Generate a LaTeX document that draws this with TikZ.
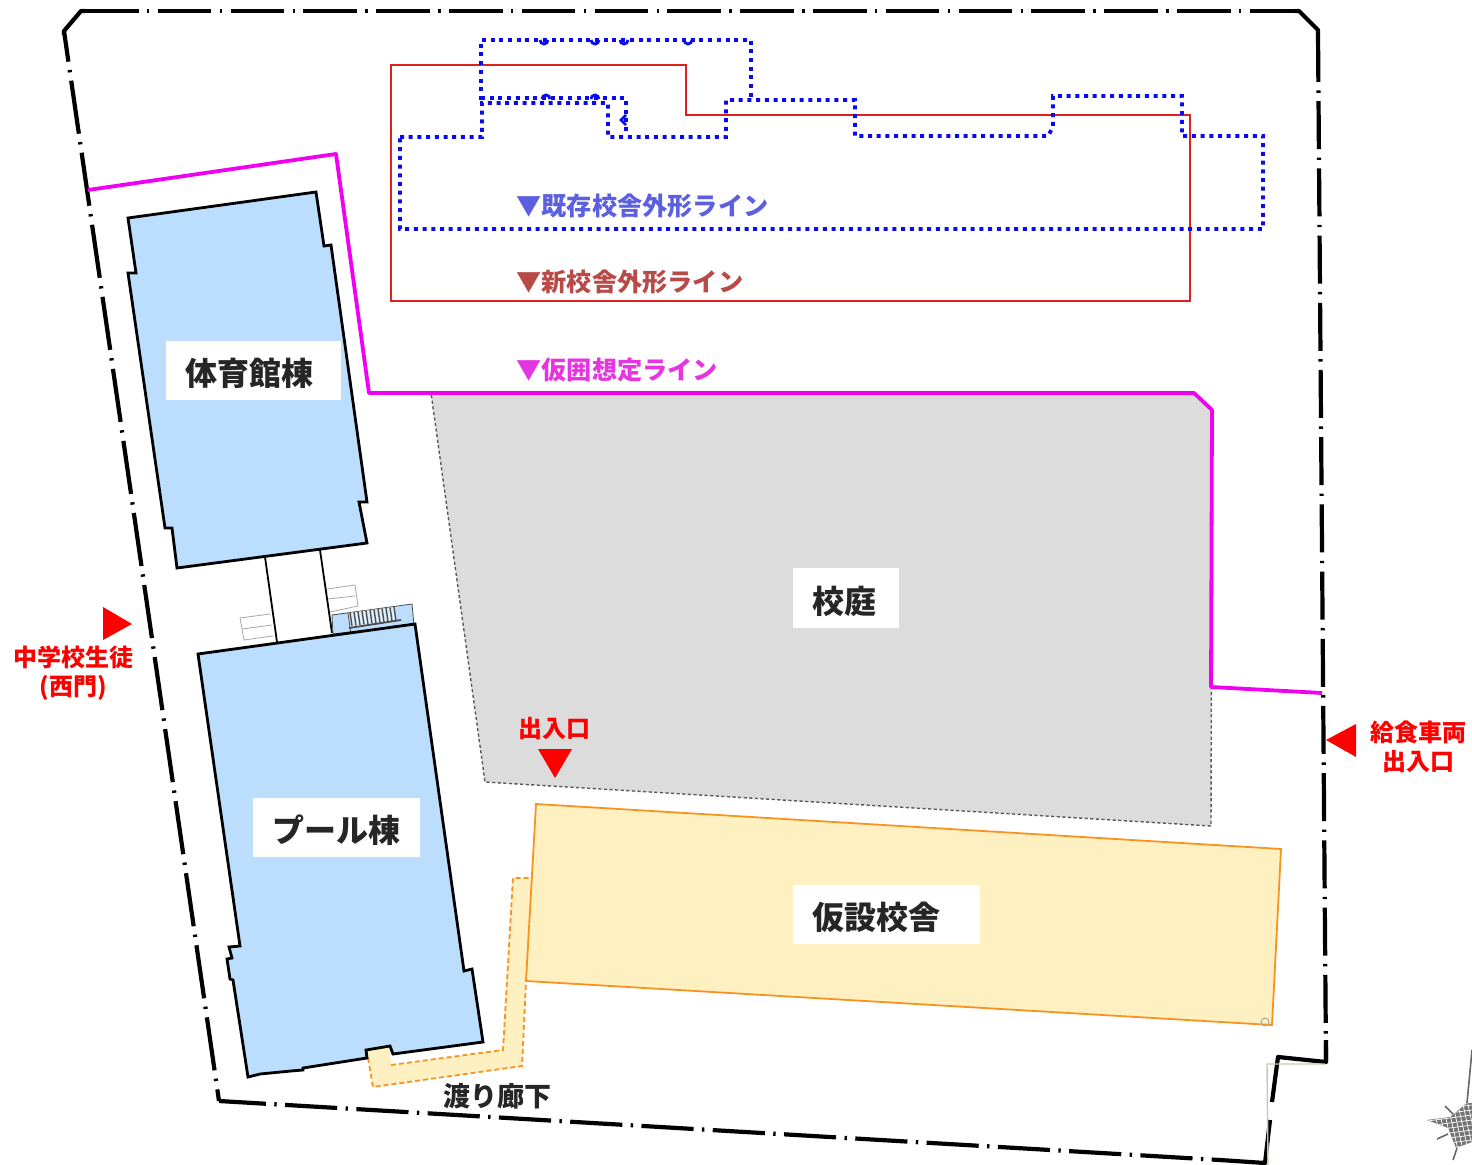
\documentclass[tikz,border=0pt]{standalone}
\usepackage{fontspec}
\setmainfont{Noto Sans CJK JP}
\usetikzlibrary{positioning}

\definecolor{bldgblue}{HTML}{BBDEFE}
\definecolor{tempyellow}{HTML}{FFF0C2}
\definecolor{tempedge}{HTML}{F79421}
\definecolor{yardgray}{HTML}{DCDCDC}
\definecolor{fenceline}{HTML}{F000F0}
\definecolor{oldline}{HTML}{0A0AF0}
\definecolor{newline}{HTML}{E0201C}
\definecolor{surveyline}{HTML}{C8C8B0}

\begin{document}
\begin{tikzpicture}[x=0.5pt, y=-0.5pt,
    site/.style={line width=2.1pt, dash pattern=on 26.8pt off 4.2pt on 1.2pt off 4.2pt},
    bldg/.style={draw, fill=bldgblue, line width=1.4pt, line join=miter},
    fence/.style={draw=fenceline, line width=1.9pt, line join=round},
    oldout/.style={draw=oldline, line width=1.9pt, dash pattern=on 2pt off 2.35pt},
    newout/.style={draw=newline, line width=0.7pt},
    stairs/.style={draw=gray!70, line width=0.4pt},
    namebox/.style={fill=white, inner xsep=9.7pt, inner ysep=0pt, minimum height=29.5pt, align=left, text height=15pt, text depth=0pt, font=\fontsize{16}{16}\selectfont\bfseries, text=black!85},
    legend/.style={anchor=west, inner sep=0pt, font=\fontsize{12.6}{12.6}\selectfont\bfseries},
    gate/.style={inner sep=0pt, align=center, text=red, font=\fontsize{12}{14.5}\selectfont\bfseries},
    marker/.style={fill=red}]
    \useasboundingbox (0,0) rectangle (1472,1165);

    % yard
    \path[fill=yardgray, draw=black!65, line width=0.7pt, dash pattern=on 1.6pt off 1.2pt] (431,393) -- (1194,393) -- (1212,410) -- (1211,826) -- (485,782) -- cycle;

    % temporary school and corridor
    \path[fill=tempyellow] (513,878) -- (532,878) -- (526,982) -- (522,1066) -- (373,1087) -- (367,1050) -- (390,1046) -- (391,1065) -- (503,1050) -- cycle;
    \draw[tempedge, line width=0.9pt, dash pattern=on 2.5pt off 1.5pt] (368,1058) -- (373,1087) -- (522,1066) -- (526,982);
    \draw[tempedge, line width=0.9pt, dash pattern=on 2.5pt off 1.5pt] (391,1065) -- (503,1050) -- (513,878) -- (532,878);
    \path[fill=tempyellow, draw=tempedge, line width=0.9pt] (536,804) -- (1281,849) -- (1272,1025) -- (526,981) -- cycle;
    \draw[gray!70, line width=0.5pt] (1265,1022) circle (4);

    % buildings
    \draw[line width=0.9pt] (265,557) -- (277,642);
    \draw[line width=0.9pt] (320,550) -- (332,633);
    \draw[stairs] (327,589) -- (355,585) -- (358,606) -- (330,612);
    \draw[stairs] (328,599) -- (355,596);
    \draw[stairs] (270,614) -- (240,618) -- (244,640) -- (273,636);
    \draw[stairs] (242,629) -- (272,625);
    \path[draw=black!70, fill=bldgblue, line width=0.4pt] (332,615) -- (412,604) -- (414,625) -- (333,634) -- cycle;
    \path[fill=bldgblue!50] (348,613) -- (395,607) -- (397,622) -- (350,627) -- cycle;
    \foreach \i in {0,...,11} {
        \draw[black!70, line width=0.7pt] ({350+\i*4},{612.5-\i*0.5}) -- ({352+\i*4},{626-\i*0.5});
    }
    \draw[black!70, line width=0.9pt] (349,628) -- (401,620);
    \draw[black!70, line width=0.4pt] (348,613) -- (351,635);

    \path[bldg] (128,218) -- (316,192) -- (324,246) -- (331,245) -- (367,502) -- (359,502) -- (367,543) -- (177,568) -- (172,528) -- (165,528) -- (128,273) -- (136,273) -- cycle;
    \path[bldg] (198,654) -- (415,624) -- (464,971) -- (472,969) -- (483,1042) -- (393,1054) -- (390,1046) -- (366,1050) -- (367,1058) -- (303,1068) -- (303,1070) -- (291,1071) -- (260,1074) -- (248,1077) -- (233,980) -- (230,979) -- (227,959) -- (232,958) -- (229,947) -- (240,946) -- cycle;

    % new and existing school outlines
    \draw[newout] (391,65) -- (686,65) -- (686,115) -- (1190,115) -- (1190,301) -- (391,301) -- cycle;
    \draw[oldout] (400,137) -- (482,137) -- (482,103) -- (608,103) -- (608,137) -- (726,137) -- (726,100) -- (855,100) -- (855,136) -- (1048,136) -- (1053,127) -- (1053,96) -- (1182,96) -- (1182,136) -- (1263,136) -- (1263,229) -- (400,229) -- cycle;
    \draw[oldout] (481,100) -- (481,40) -- (751,40) -- (751,100);
    \draw[oldout] (481,98) -- (626,98) -- (626,135);
    \foreach \bx in {544,595,624,688} {
        \draw[oldline, line width=1.4pt] ({\bx-4},40) arc (180:0:4);
    }
    \foreach \bx in {546,595} {
        \draw[oldline, line width=1.4pt] ({\bx-4},99) arc (180:360:4);
    }
    \draw[oldline, line width=1.4pt] (626,115) -- (621,120) -- (626,125);

    % site boundary
    \draw[line width=2.1pt, line join=round] (64,35) -- (64,31) -- (81,11) -- (85,11);
    \draw[line width=2.1pt, line join=round] (1295,11) -- (1299,11) -- (1318,30) -- (1318,34);
    \draw[site, dash phase=11.3pt] (64,31) -- (219,1101);
    \draw[site] (85,11) -- (1295,11);
    \draw[site, dash pattern=on 24pt off 4.2pt on 1.2pt off 4.2pt] (1318,34) -- (1326,1062);
    \draw[line width=2.1pt, line join=round] (1326,1040) -- (1326,1062) -- (1278,1057) -- (1272,1102);
    \draw[line width=2.1pt, line join=round] (1270,1120) -- (1265,1163) -- (1220,1160);
    \draw[site, dash pattern=on 26.1pt off 4.2pt on 1.2pt off 4.2pt, dash phase=2.6pt] (219,1101) -- (1220,1160);
    \draw[surveyline, line width=0.7pt] (1325,1064) -- (1267,1064) -- (1268,1165);

    % temporary fence
    \draw[fence] (88,190) -- (336,154) -- (369,393) -- (1194,393) -- (1212,410) -- (1211,687) -- (1322,693);

    % compass
    \begin{scope}
        \clip (1427,1120) -- (1450,1117) -- (1467,1103) -- (1472,1103) -- (1472,1142) -- (1456,1148) -- (1448,1128) -- cycle;
        \fill[black!55] (1420,1095) rectangle (1472,1165);
        \foreach \i in {0,...,9} {
            \draw[white, line width=0.35pt] ({1432+\i*5},1100) -- ({1444+\i*5},1155);
            \draw[white, line width=0.35pt] (1420,{1112+\i*5}) -- (1472,{1105+\i*5});
        }
    \end{scope}
    \draw[black!60, line width=0.8pt] (1467,1103) -- (1472,1050);
    \draw[black!60, line width=0.8pt] (1445,1106) -- (1453,1114);
    \draw[black!60, line width=0.8pt] (1437,1139) -- (1448,1134);
    \draw[black!60, line width=0.8pt] (1453,1160) -- (1457,1148);

    % names
    \node[namebox, text width=68.1pt] (gym) at (253.5,370.5) {体育館棟};
    \node[namebox, text width=33.6pt] (yard) at (846,598) {校庭};
    \node[namebox, text width=64.1pt] (pool) at (336.5,827.5) {プール棟};
    \node[namebox, text width=74.1pt] (temp) at (886.5,914.5) {仮設校舎};
    \node[inner sep=0pt, text=black!85, font=\fontsize{13.5}{13.5}\selectfont\bfseries] (corridor) at (497,1096) {渡り廊下};

    % legend
    \node[legend, text={rgb,255:red,91;green,95;blue,224}] (oldlabel) at (516,206) {▼既存校舎外形ライン};
    \node[legend, text={rgb,255:red,184;green,74;blue,72}] (newlabel) at (516,282) {▼新校舎外形ライン};
    \node[legend, text={rgb,255:red,229;green,53;blue,224}] (fencelabel) at (516,370) {▼仮囲想定ライン};

    % gates
    \path[marker] (103,607) -- (132,624) -- (103,640) -- cycle;
    \path[marker] (1356,724) -- (1326,740) -- (1356,757) -- cycle;
    \path[marker] (538,749) -- (572,749) -- (555,778) -- cycle;
    \node[gate] (westgate) at (73,673.5) {中学校生徒\\(西門)};
    \node[gate] (maingate) at (554,728.5) {出入口};
    \node[gate] (foodgate) at (1418,747) {給食車両\\出入口};
\end{tikzpicture}
\end{document}
